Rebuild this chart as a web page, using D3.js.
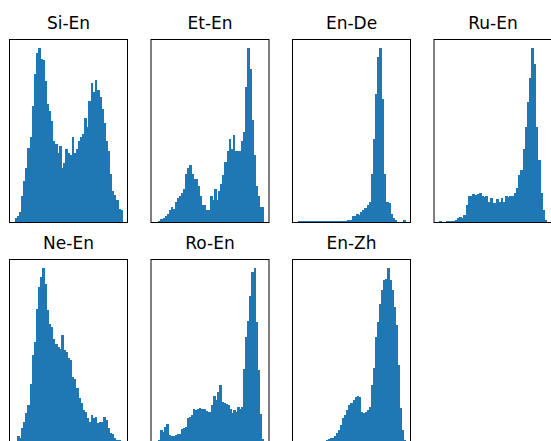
<!DOCTYPE html>
<html>
<head>
<meta charset="utf-8">
<script src="https://cdn.jsdelivr.net/npm/d3@7"></script>
<style>
  body { margin: 0; background: #fff; }
  svg { display: block; }
</style>
</head>
<body>
<div id="chart"></div>
<script>
// histogram bin heights (relative units)
const titles = ["Si-En", "Et-En", "En-De", "Ru-En", "Ne-En", "Ro-En", "En-Zh"];

const siEn = [2.5, 4, 6, 15, 24, 31, 43, 49, 67, 85, 97, 100, 94, 93, 81, 68, 64, 58, 47, 45,
  40, 44, 31, 34, 42, 40, 39, 49, 40, 42, 47, 49, 51, 60, 55, 70, 80, 75, 82, 76,
  72, 65, 57, 47, 41, 28, 18, 16, 13, 8, 7];
const etEn = [0.5, 1, 2, 2.5, 4, 5, 7, 9, 8, 12, 14, 15, 17, 19, 28, 31, 33, 28, 25, 25,
  21, 15, 10, 10, 7, 7, 15, 13, 19, 13, 18, 22, 27, 35, 41, 48, 42, 50, 41, 41,
  41, 47, 52, 78, 100, 88, 59, 39, 21, 15, 9, 9];
const enDe = [0.6, 0.6, 0.6, 0.6, 0.6, 0.6, 0.6, 0.6, 0.6, 0.6, 0.6, 0.6, 0.6, 0.6, 0.6, 0.6,
  0.6, 0.6, 0.6, 0.6, 0.6, 0.6, 1, 1.5, 1.5, 3.5, 4, 5, 4.5, 6, 7, 8.5, 10, 12, 28, 48,
  74, 95, 100, 71, 28, 12, 11, 5, 2.5, 1.5, 0.5, 0.5, 0.5, 1.5];
const ruEn = [0.8, 0.4, 0.4, 0.8, 0.8, 1, 1, 1.5, 2.5, 3, 2.5, 4.5, 10, 15, 15, 16.5, 16, 16.5, 17, 15,
  14.5, 15, 12, 14, 11, 11, 13.5, 12, 14, 12, 15, 14.5, 15, 15, 17, 20, 27, 30, 42, 55,
  69, 83, 100, 91, 55, 36, 17, 7, 1.5];
const neEn = [1, 3.9, 2.4, 8.1, 11.9, 16.7, 21.4, 33.8, 50, 57.7, 76.7, 89, 94.9, 100, 91, 75.8, 68.2, 66.3, 59.6, 56.8,
  54.8, 53.9, 61.5, 52.9, 52, 48.2, 47.2, 37.7, 36.7, 31, 25.3, 22.4, 18.6, 17.7, 13.9, 12, 15.8, 13.9, 14.9, 11,
  12, 12, 14.9, 13, 8.1, 5.3, 4.7, 2.4, 1.4, 1.4, 0.5];
const roEn = [1, 1.4, 7.1, 6.2, 9, 10.4, 4.3, 3.9, 3.9, 4.3, 4.7, 4.7, 7.7, 8.1, 9, 14.2, 14.7, 16, 19.1, 18.5,
  19.5, 19.8, 19.1, 19.5, 17.9, 17.6, 17.6, 21.4, 26.7, 24.2, 29, 33.2, 23.3, 22.9, 22.3, 21.4, 19.5, 17.2, 18.5, 17.6,
  20.5, 19.5, 20.5, 42.4, 60.5, 70, 84.3, 97.7, 100, 69, 41.4, 16.6, 2];
const enZh = [0.3, 0.3, 0.3, 0.3, 0.4, 0.4, 0.4, 0.5, 0.5, 0.6, 0.6, 0.8, 0.8, 1, 1.2, 2, 2.4, 2.4, 3.9, 5.3,
  7.2, 10, 13.9, 15.8, 18.7, 21.6, 22.5, 24.4, 26.3, 26.9, 26.3, 17.7, 16.8, 17.7, 18.7, 20.6, 33, 42.5, 60.6, 69.2,
  79.7, 87.3, 93, 94, 100, 93, 87.3, 77.8, 67.3, 44.4, 19.6, 7.2, 1.4];

const series = [siEn, etEn, enDe, ruEn, neEn, roEn, enZh];

const width = 551;
const height = 441;
const panelW = 118;
const panelH = 183;
const left0 = 9.5;
const top0 = 39.5;
const colStep = 141.5;
const rowStep = 220;

const svg = d3.select("#chart")
  .append("svg")
  .attr("width", width)
  .attr("height", height);

series.forEach((vals, i) => {
  const col = i % 4;
  const row = Math.floor(i / 4);
  const n = vals.length;

  const g = svg.append("g")
    .attr("transform", "translate(" + (left0 + col * colStep) + "," + (top0 + row * rowStep) + ")");

  // matplotlib style 5% margins on x, 5% headroom on y
  const x = d3.scaleLinear()
    .domain([-0.05 * n, n * 1.05])
    .range([0, panelW]);
  const y = d3.scaleLinear()
    .domain([0, d3.max(vals) * 1.05])
    .range([panelH, 0]);

  g.selectAll("rect.bar")
    .data(vals)
    .enter()
    .append("rect")
    .attr("class", "bar")
    .attr("x", (d, j) => x(j))
    .attr("y", d => y(d))
    .attr("width", (d, j) => x(j + 1) - x(j) + 0.6)
    .attr("height", d => panelH - y(d))
    .attr("fill", "#1f77b4")
    .attr("shape-rendering", "crispEdges");

  g.append("rect")
    .attr("x", 0)
    .attr("y", 0)
    .attr("width", panelW)
    .attr("height", panelH)
    .attr("fill", "none")
    .attr("stroke", "#000")
    .attr("stroke-width", 1);

  g.append("text")
    .attr("x", panelW / 2)
    .attr("y", -10.5)
    .attr("text-anchor", "middle")
    .attr("font-family", "DejaVu Sans")
    .attr("font-size", 17)
    .attr("fill", "#000")
    .text(titles[i]);
});
</script>
</body>
</html>
